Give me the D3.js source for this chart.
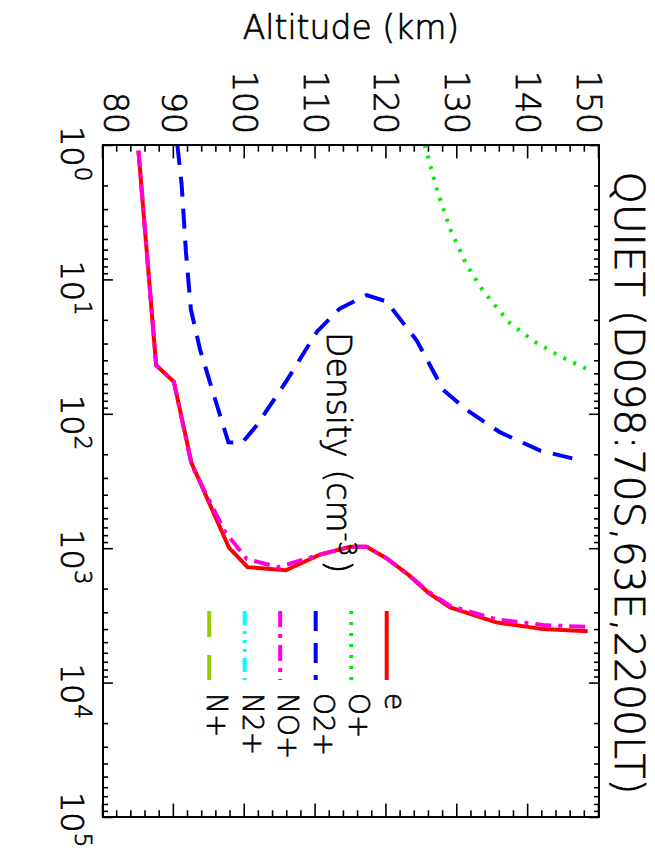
<!DOCTYPE html>
<html>
<head>
<meta charset="utf-8">
<script src="https://cdn.jsdelivr.net/npm/d3@7"></script>
<style>
  body { margin: 0; background: #fff; }
  text { font-family: "DejaVu Sans", sans-serif; font-weight: 200; fill: #000; stroke: #000; stroke-width: 0.7px; }
</style>
</head>
<body>
<div id="chart"></div>
<script>
// density profiles (cm^-3) against altitude (km)
const eAlt = [85, 87.5, 90, 92.5, 97.8, 100.4, 105.8, 110.6, 114.9, 117.2, 120.0, 123.1, 125.9, 129.0, 135.5, 142.1, 148.4];
const eDen = [1.1, 43.5, 57.7, 233, 996, 1384, 1460, 1117, 975, 975, 1188, 1575, 2138, 2754, 3566, 4000, 4156];

const opAlt = [125.4, 127.1, 129.0, 131.3, 133.7, 137.4, 140.7, 144.5, 148.5];
const opDen = [1.0, 2.13, 4.24, 7.8, 12.3, 21.1, 28.6, 37.3, 47];

const o2Alt = [90.5, 91.1, 91.7, 92.4, 93.7, 95.6, 97.7, 99.6, 101.7, 105.9, 110.2, 113.4, 117.2, 120.0, 124.3, 128.0, 131.3, 136.0, 141.7, 147.1];
const o2Den = [1.0, 1.97, 6.2, 16.7, 33.3, 71.4, 163, 165, 122, 56.9, 24.5, 16.5, 13.1, 14.6, 28.6, 66.2, 93.3, 137, 188, 220];

const noAlt = [85, 87.5, 90, 92.5, 97.2, 100.3, 104.7, 110.6, 114.9, 117.2, 120.0, 123.1, 125.9, 129.0, 135.5, 142.1, 148.4];
const noDen = [1.1, 43.5, 57.7, 240, 751, 1205, 1384, 1117, 975, 975, 1188, 1575, 2100, 2690, 3380, 3730, 3850];

// N2+ and N+ stay below the plotted range
const n2Alt = [];
const n2Den = [];
const nAlt = [];
const nDen = [];

const seriesNames = ["e", "O+", "O2+", "NO+", "N2+", "N+"];
const seriesColors = ["#ff0000", "#00ee00", "#0000ff", "#ff00dd", "#00ffff", "#99cc00"];
const seriesDash = [null, "3,8", "20,12", "16,7,4,7", "14,6,3,6,3,6,3,6", "26,18"];

const altTicks = [80, 90, 100, 110, 120, 130, 140, 150];
const denTicks = [1, 10, 100, 1000, 10000, 100000];

const titleText = "QUIET (D098:70S,63E,2200LT)";

const series = [
  [eAlt, eDen], [opAlt, opDen], [o2Alt, o2Den], [noAlt, noDen], [n2Alt, n2Den], [nAlt, nDen]
].map(([a, d], i) => ({
  name: seriesNames[i],
  color: seriesColors[i],
  dash: seriesDash[i],
  values: a.map((alt, j) => ({ alt: alt, den: d[j] }))
}));

const W = 655, H = 848;
// the plot is built upright (848 wide, 655 tall) and then turned a quarter clockwise
const plot = { left: 145, right: 817, top: 56, bottom: 552 };

const x = d3.scaleLog().domain([1, 1e5]).range([plot.left, plot.right]);
const y = d3.scaleLinear().domain([80, 150]).range([plot.bottom, plot.top]);

const svg = d3.select("#chart").append("svg")
  .attr("width", W)
  .attr("height", H);

const g = svg.append("g")
  .attr("transform", `translate(${W},0) rotate(90)`);

g.append("defs").append("clipPath")
  .attr("id", "clip")
  .append("rect")
  .attr("x", plot.left)
  .attr("y", plot.top)
  .attr("width", plot.right - plot.left)
  .attr("height", plot.bottom - plot.top);

const line = d3.line()
  .x(d => x(d.den))
  .y(d => y(d.alt));

const lines = g.append("g").attr("clip-path", "url(#clip)");
series.forEach(s => {
  if (!s.values.length) return;
  lines.append("path")
    .datum(s.values)
    .attr("fill", "none")
    .attr("stroke", s.color)
    .attr("stroke-width", 4)
    .attr("stroke-dasharray", s.dash)
    .attr("d", line);
});

// axes: ticks point inwards on all four sides
const altMinor = d3.range(80, 150.1, 2).filter(v => v % 10 !== 0);
const denMinor = x.ticks().filter(v => !denTicks.includes(v));
const majLenAlt = 13.4, majLenDen = 9.9;

function styleAxis(sel) {
  sel.select(".domain").remove();
  sel.selectAll("line").attr("stroke", "#000").attr("stroke-width", 1.6);
  sel.selectAll("text").remove();
}

[[plot.left, d3.axisRight], [plot.right, d3.axisLeft]].forEach(([pos, ax]) => {
  g.append("g").attr("transform", `translate(${pos},0)`)
    .call(ax(y).tickValues(altTicks).tickSize(majLenAlt)).call(styleAxis);
  g.append("g").attr("transform", `translate(${pos},0)`)
    .call(ax(y).tickValues(altMinor).tickSize(majLenAlt / 2)).call(styleAxis);
});

[[plot.bottom, d3.axisTop], [plot.top, d3.axisBottom]].forEach(([pos, ax]) => {
  g.append("g").attr("transform", `translate(0,${pos})`)
    .call(ax(x).tickValues(denTicks).tickSize(majLenDen)).call(styleAxis);
  g.append("g").attr("transform", `translate(0,${pos})`)
    .call(ax(x).tickValues(denMinor).tickSize(majLenDen / 2)).call(styleAxis);
});

g.append("rect")
  .attr("x", plot.left)
  .attr("y", plot.top)
  .attr("width", plot.right - plot.left)
  .attr("height", plot.bottom - plot.top)
  .attr("fill", "none")
  .attr("stroke", "#000")
  .attr("stroke-width", 2);

// altitude labels, the end ones kept inside the axis span
g.selectAll(".altLabel")
  .data(altTicks)
  .enter()
  .append("text")
  .attr("class", "altLabel")
  .attr("x", plot.left - 11)
  .attr("y", d => Math.min(plot.bottom - 13, Math.max(plot.top + 10, y(d))) + 12)
  .attr("text-anchor", "end")
  .style("font-size", "33px")
  .text(d => d);

// density labels 10^n, the last one pulled in so it stays on the page
const denLabels = g.selectAll(".denLabel")
  .data(denTicks)
  .enter()
  .append("text")
  .attr("class", "denLabel")
  .attr("x", d => Math.min(x(d) - 19, H - 56))
  .attr("y", plot.bottom + 42)
  .style("font-size", "32px");
denLabels.append("tspan").text("10");
denLabels.append("tspan")
  .attr("dy", -14)
  .style("font-size", "23px")
  .text(d => Math.round(Math.log10(d)));

g.append("text")
  .attr("x", (plot.left + plot.right) / 2 + 2)
  .attr("y", 40)
  .attr("text-anchor", "middle")
  .style("font-size", "41px")
  .text(titleText);

const xTitle = g.append("text")
  .attr("x", 332)
  .attr("y", 328)
  .style("font-size", "33px");
xTitle.append("tspan").text("Density");
xTitle.append("tspan").attr("dx", 12).text("(cm");
xTitle.append("tspan").attr("dy", -12).style("font-size", "24px").text("-3");
xTitle.append("tspan").attr("dy", 12).attr("dx", 4).text(")");

// legend
const legend = g.selectAll(".legend")
  .data(series)
  .enter()
  .append("g")
  .attr("class", "legend")
  .attr("transform", (d, i) => `translate(0,${268.3 + i * 35.5})`);

legend.append("line")
  .attr("x1", 611)
  .attr("x2", 680)
  .attr("stroke", d => d.color)
  .attr("stroke-width", 4)
  .attr("stroke-dasharray", d => d.dash);

legend.append("text")
  .attr("x", 693)
  .attr("y", 2)
  .style("font-size", "28px")
  .text(d => d.name);

// y title reads upright in the final picture
svg.append("text")
  .attr("x", 351)
  .attr("y", 39)
  .attr("text-anchor", "middle")
  .style("font-size", "33px")
  .text("Altitude (km)");
</script>
</body>
</html>
